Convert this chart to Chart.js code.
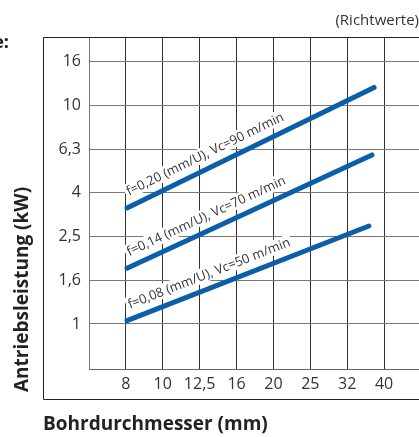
<!DOCTYPE html>
<html>
<head>
<meta charset="utf-8">
<script src="https://cdn.jsdelivr.net/npm/chart.js@4"></script>
<style>
  body { margin: 0; background: #fff; }
  canvas { display: block; }
</style>
</head>
<body>
<canvas id="power-chart" width="419" height="437"></canvas>
<script>
// tick positions (Renard series) and the labels printed at them
const xTickValues = [7.94, 10, 12.59, 15.85, 19.95, 25.12, 31.62, 39.81];
const xTickLabels = ["8", "10", "12,5", "16", "20", "25", "32", "40"];
const yTickValues = [1, 1.585, 2.512, 3.981, 6.31, 10, 15.85];
const yTickLabels = ["1", "1,6", "2,5", "4", "6,3", "10", "16"];

// one line per feed / cutting speed: diameter (mm) -> power (kW)
const seriesLabels = [
  "f=0,20 (mm/U), Vc=90 m/min",
  "f=0,14 (mm/U), Vc=70 m/min",
  "f=0,08 (mm/U), Vc=50 m/min"
];
const diameterF020 = [8, 37.4];
const powerF020 = [3.4, 12.1];
const diameterF014 = [8, 36.9];
const powerF014 = [1.8, 5.94];
const diameterF008 = [8, 36.2];
const powerF008 = [1.035, 2.81];

const lineColor = "#0a5fa8";
const textColor = "#333";

const toPoints = (xs, ys) => xs.map((x, i) => ({ x: x, y: ys[i] }));

const makeSet = (label, xs, ys) => ({
  label: label,
  data: toPoints(xs, ys),
  borderColor: lineColor,
  borderWidth: 5,
  borderCapStyle: "round",
  pointRadius: 0
});

// rotated labels sitting on top of each line, with a white knock-out
const lineLabelsPlugin = {
  id: "lineLabels",
  afterDatasetsDraw(chart) {
    const ctx = chart.ctx;
    chart.data.datasets.forEach((ds, i) => {
      const pts = chart.getDatasetMeta(i).data;
      const p0 = pts[0], p1 = pts[pts.length - 1];
      const angle = Math.atan2(p1.y - p0.y, p1.x - p0.x);
      ctx.save();
      ctx.translate(p0.x, p0.y);
      ctx.rotate(angle);
      ctx.font = "13px 'Open Sans'";
      const w = ctx.measureText(ds.label).width;
      ctx.fillStyle = "#fff";
      ctx.fillRect(5, -22, w + 4, 15);
      ctx.fillStyle = textColor;
      ctx.textBaseline = "alphabetic";
      ctx.fillText(ds.label, 7, -10);
      ctx.restore();
    });
  }
};

// frame, axis titles and the notes outside the plot
const framePlugin = {
  id: "frame",
  afterDraw(chart) {
    const ctx = chart.ctx;
    ctx.save();
    ctx.strokeStyle = "#222";
    ctx.lineWidth = 1;
    ctx.beginPath();
    ctx.moveTo(419, 37.5);
    ctx.lineTo(43.5, 37.5);
    ctx.lineTo(43.5, 399.5);
    ctx.lineTo(419, 399.5);
    ctx.stroke();

    ctx.fillStyle = "#222";
    ctx.textBaseline = "alphabetic";
    ctx.textAlign = "left";
    ctx.font = "bold 19px 'Open Sans'";
    ctx.fillText("Bohrdurchmesser (mm)", 43, 430);

    ctx.save();
    ctx.translate(28, 392);
    ctx.rotate(-Math.PI / 2);
    ctx.fillText("Antriebsleistung (kW)", 0, 0);
    ctx.restore();

    ctx.textAlign = "right";
    ctx.font = "bold 18px 'Open Sans'";
    ctx.fillText("e:", 9, 48);

    ctx.fillStyle = textColor;
    ctx.font = "15px 'Open Sans'";
    ctx.fillText("(Richtwerte)", 419, 25);
    ctx.restore();
  }
};

document.addEventListener("DOMContentLoaded", () => {
  const ctx = document.getElementById("power-chart").getContext("2d");
  new Chart(ctx, {
    type: "line",
    data: {
      datasets: [
        makeSet(seriesLabels[0], diameterF020, powerF020),
        makeSet(seriesLabels[1], diameterF014, powerF014),
        makeSet(seriesLabels[2], diameterF008, powerF008)
      ]
    },
    options: {
      responsive: false,
      animation: false,
      layout: { padding: { left: 0, top: 37, right: 0, bottom: 0 } },
      scales: {
        x: {
          type: "logarithmic",
          bounds: "data",
          min: 6.31,
          max: 49.5,
          afterBuildTicks: (scale) => {
            scale.ticks = xTickValues.map((v) => ({ value: v }));
          },
          afterFit: (scale) => { scale.height = 68; },
          ticks: {
            autoSkip: false,
            maxRotation: 0,
            padding: 6,
            color: textColor,
            font: { family: "'Open Sans'", size: 16 },
            callback: (value, index) => xTickLabels[index]
          },
          grid: { color: "#333", drawTicks: false },
          border: { color: "#666" }
        },
        y: {
          type: "logarithmic",
          bounds: "data",
          min: 0.622,
          max: 20.6,
          afterBuildTicks: (scale) => {
            scale.ticks = yTickValues.map((v) => ({ value: v }));
          },
          afterFit: (scale) => { scale.width = 89; },
          ticks: {
            autoSkip: false,
            padding: 8,
            color: textColor,
            font: { family: "'Open Sans'", size: 16 },
            callback: (value, index) => yTickLabels[index]
          },
          grid: { color: "#777", drawTicks: false },
          border: { color: "#777" }
        }
      },
      plugins: {
        legend: { display: false },
        tooltip: { enabled: false }
      }
    },
    plugins: [lineLabelsPlugin, framePlugin]
  });
});
</script>
</body>
</html>
